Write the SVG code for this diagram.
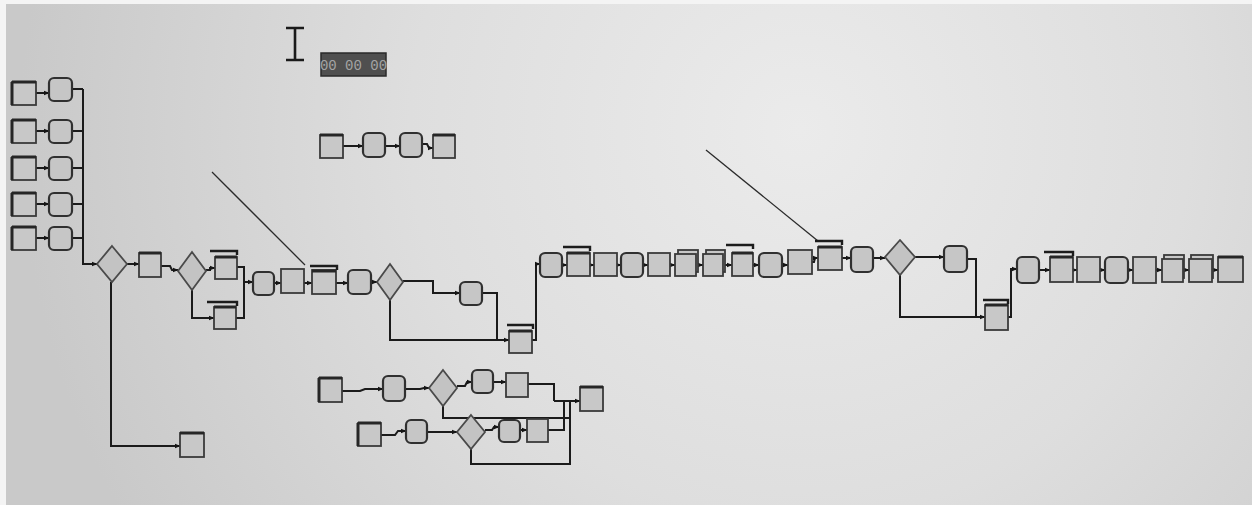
<svg xmlns="http://www.w3.org/2000/svg" width="1252" height="505" viewBox="0 0 1252 505">
  <defs>
    <radialGradient id="screen" cx="800" cy="130" r="780" gradientUnits="userSpaceOnUse">
      <stop offset="0" stop-color="#ebebeb"/>
      <stop offset="0.5" stop-color="#dedede"/>
      <stop offset="1" stop-color="#c9c9c9"/>
    </radialGradient>
    <marker id="arr" viewBox="0 0 6 6" refX="5.5" refY="3" markerWidth="6" markerHeight="6" orient="auto" markerUnits="userSpaceOnUse">
      <path d="M0 0.5 L6 3 L0 5.5 Z" fill="#151515"/>
    </marker>
    <style>
      .p { fill:#c8c8c8; stroke:#3a3a3a; stroke-width:1.8; }
      .a { fill:#c6c6c6; stroke:#303030; stroke-width:2.2; }
      .d { fill:#c3c3c3; stroke:#4a4a4a; stroke-width:1.8; }
      .hd { fill:none; stroke:#262626; stroke-width:3; }
      .q { fill:none; stroke:#1c1c1c; stroke-width:2.4; }
      .c path { fill:none; stroke:#1b1b1b; stroke-width:2; marker-end:url(#arr); }
      .c path.n { marker-end:none; }
      .ln { fill:none; stroke:#2a2a2a; stroke-width:1.3; }
    </style>
  </defs>

  <!-- screen surface -->
  <rect width="1252" height="505" fill="#f4f4f4"/>
  <rect x="6" y="4" width="1246" height="501" fill="url(#screen)"/>

  <!-- toolbar cursor and run clock -->
  <g id="cursor">
    <path d="M295 28 V60 M286 28 H304 M286 60 H304" fill="none" stroke="#1a1a1a" stroke-width="2.6"/>
  </g>
  <g id="clock">
    <rect x="321" y="53" width="65" height="23" fill="#4f4f4f" stroke="#2a2a2a" stroke-width="1.5"/>
    <text x="353.5" y="70" text-anchor="middle" font-family="Liberation Mono, monospace" font-size="14" fill="#a4a4a4">00 00 00</text>
  </g>

  <!-- pointer lines -->
  <path class="ln" d="M212 172 L305 265"/>
  <path class="ln" d="M706 150 L818 241"/>

  <!-- connectors -->
  <g id="connectors" class="c">
    <!-- arrival streams -->
    <path d="M36 93 H49"/>
    <path d="M36 131 H49"/>
    <path d="M36 168 H49"/>
    <path d="M36 204 H49"/>
    <path d="M36 238 H49"/>
    <path class="n" d="M72 89 H83 M72 131 H83 M72 168 H83 M72 204 H83 M72 238 H83"/>
    <path d="M83 89 V264 H97"/>
    <!-- first branch -->
    <path d="M127 264 H139"/>
    <path d="M111 282 V446 H180"/>
    <path d="M161 266 H170 L172 270 H178"/>
    <path d="M206 270 H210 V268 H215"/>
    <path d="M192 290 V318 H214"/>
    <path class="n" d="M237 267 H244 V318 H236"/>
    <path d="M244 282 H253"/>
    <path d="M274 283 H281"/>
    <path d="M304 283 H312"/>
    <path d="M336 283 H348"/>
    <path d="M371 282 H377"/>
    <path d="M403 281 H433 V293 H460"/>
    <path class="n" d="M482 293 H497 V340"/>
    <path d="M390 300 V340 H509"/>
    <path d="M532 340 H536 V264 H540"/>
    <!-- upper line -->
    <path d="M562 265 H567"/>
    <path d="M590 265 H594"/>
    <path d="M617 265 H621"/>
    <path d="M643 265 H648"/>
    <path d="M670 265 H675"/>
    <path d="M697 265 H703"/>
    <path d="M724 265 H732"/>
    <path d="M753 265 H759"/>
    <path d="M782 265 H788"/>
    <path d="M812 262 H814 L815 258 H818"/>
    <path d="M842 258 H851"/>
    <path d="M873 258 H885"/>
    <path d="M915 257 H944"/>
    <path class="n" d="M967 259 H976 V317"/>
    <path d="M900 275 V317 H985"/>
    <path d="M1008 317 H1011 V269 H1017"/>
    <path d="M1039 270 H1050"/>
    <path d="M1073 270 H1077"/>
    <path d="M1100 270 H1105"/>
    <path d="M1128 270 H1133"/>
    <path d="M1156 270 H1162"/>
    <path d="M1183 270 H1189"/>
    <path d="M1212 270 H1218"/>
    <!-- small chain -->
    <path d="M343 146 H363"/>
    <path d="M385 146 H400"/>
    <path d="M422 144 H427 L429 148 H433"/>
    <!-- lower sub-model -->
    <path d="M342 391 H360 L365 389 H383"/>
    <path d="M405 389 H420 L424 388 H429"/>
    <path d="M457 386 H465 L467 382 H472"/>
    <path d="M493 382 H506"/>
    <path class="n" d="M528 384 H554 V401"/>
    <path d="M554 401 H580"/>
    <path class="n" d="M443 406 V418 H570"/>
    <path d="M381 435 H395 L398 431 H406"/>
    <path d="M427 432 H457"/>
    <path d="M485 430 H492 L494 427 H499"/>
    <path d="M520 430 H527"/>
    <path class="n" d="M548 430 H564 V401"/>
    <path class="n" d="M471 449 V464 H570 V401"/>
  </g>

  <!-- arrival sources -->
  <g id="src1"><rect class="p" x="12" y="82" width="24" height="23"/><path class="hd" d="M12 82 H36 M12 82 V105"/></g>
  <g id="set1"><rect class="a" x="49" y="78" width="23" height="23" rx="5"/></g>
  <g id="src2"><rect class="p" x="12" y="120" width="24" height="23"/><path class="hd" d="M12 120 H36 M12 120 V143"/></g>
  <g id="set2"><rect class="a" x="49" y="120" width="23" height="23" rx="5"/></g>
  <g id="src3"><rect class="p" x="12" y="157" width="24" height="23"/><path class="hd" d="M12 157 H36 M12 157 V180"/></g>
  <g id="set3"><rect class="a" x="49" y="157" width="23" height="23" rx="5"/></g>
  <g id="src4"><rect class="p" x="12" y="193" width="24" height="23"/><path class="hd" d="M12 193 H36 M12 193 V216"/></g>
  <g id="set4"><rect class="a" x="49" y="193" width="23" height="23" rx="5"/></g>
  <g id="src5"><rect class="p" x="12" y="227" width="24" height="23"/><path class="hd" d="M12 227 H36 M12 227 V250"/></g>
  <g id="set5"><rect class="a" x="49" y="227" width="23" height="23" rx="5"/></g>

  <!-- first branch -->
  <g id="dec1"><polygon class="d" points="112,246 127,264 112,282 97,264"/></g>
  <g id="proc1"><rect class="p" x="139" y="253" width="22" height="24"/><path class="hd" d="M139 253 H161"/></g>
  <g id="dec2"><polygon class="d" points="192,252 206,271 192,290 178,271"/></g>
  <g id="proc2"><rect class="p" x="215" y="257" width="22" height="22"/><path class="hd" d="M215 257 H237"/><path class="q" d="M210 251 H237 V255"/></g>
  <g id="proc3"><rect class="p" x="214" y="307" width="22" height="22"/><path class="hd" d="M214 307 H236"/><path class="q" d="M207 302 H237 V306"/></g>
  <g id="exit1"><rect class="p" x="180" y="433" width="24" height="24"/><path class="hd" d="M180 433 H204"/></g>
  <g id="set6"><rect class="a" x="253" y="272" width="21" height="23" rx="5"/></g>
  <g id="rec1"><rect class="p" x="281" y="269" width="23" height="24" fill="#cdcdcd"/></g>
  <g id="proc4"><rect class="p" x="312" y="270" width="24" height="24"/><path class="hd" d="M312 271 H336"/><path class="q" d="M310 266 H337 V270"/></g>
  <g id="set7"><rect class="a" x="348" y="270" width="23" height="24" rx="5"/></g>
  <g id="dec3"><polygon class="d" points="390,264 403,282 390,300 377,282"/></g>
  <g id="set8"><rect class="a" x="460" y="282" width="22" height="23" rx="5"/></g>
  <g id="proc5"><rect class="p" x="509" y="331" width="23" height="22"/><path class="hd" d="M509 331 H532"/><path class="q" d="M507 325 H533 V329"/></g>

  <!-- upper line -->
  <g id="set9"><rect class="a" x="540" y="253" width="22" height="24" rx="5"/></g>
  <g id="proc6"><rect class="p" x="567" y="253" width="23" height="23"/><path class="hd" d="M567 253 H590"/><path class="q" d="M563 247 H590 V251"/></g>
  <g id="rec2"><rect class="p" x="594" y="253" width="23" height="23"/></g>
  <g id="set10"><rect class="a" x="621" y="253" width="22" height="24" rx="5"/></g>
  <g id="rec3"><rect class="p" x="648" y="253" width="22" height="23"/></g>
  <g id="batch1"><rect class="p" x="678" y="250" width="20" height="22"/><rect class="p" x="675" y="254" width="21" height="22"/></g>
  <g id="batch2"><rect class="p" x="706" y="250" width="19" height="22"/><rect class="p" x="703" y="254" width="20" height="22"/></g>
  <g id="proc7"><rect class="p" x="732" y="253" width="21" height="23"/><path class="hd" d="M732 253 H753"/><path class="q" d="M726 245 H753 V249"/></g>
  <g id="set11"><rect class="a" x="759" y="253" width="23" height="24" rx="5"/></g>
  <g id="rec4"><rect class="p" x="788" y="250" width="24" height="24"/></g>
  <g id="proc8"><rect class="p" x="818" y="247" width="24" height="23"/><path class="hd" d="M818 247 H842"/><path class="q" d="M815 241 H842 V245"/></g>
  <g id="set12"><rect class="a" x="851" y="247" width="22" height="25" rx="5"/></g>
  <g id="dec4"><polygon class="d" points="900,240 915,257 900,275 885,257"/></g>
  <g id="set13"><rect class="a" x="944" y="246" width="23" height="26" rx="5"/></g>
  <g id="proc9"><rect class="p" x="985" y="305" width="23" height="25"/><path class="hd" d="M985 305 H1008"/><path class="q" d="M983 300 H1008 V304"/></g>
  <g id="set14"><rect class="a" x="1017" y="257" width="22" height="26" rx="5"/></g>
  <g id="proc10"><rect class="p" x="1050" y="257" width="23" height="25"/><path class="hd" d="M1050 257 H1073"/><path class="q" d="M1044 252 H1073 V256"/></g>
  <g id="rec5"><rect class="p" x="1077" y="257" width="23" height="25"/></g>
  <g id="set15"><rect class="a" x="1105" y="257" width="23" height="26" rx="5"/></g>
  <g id="rec6"><rect class="p" x="1133" y="257" width="23" height="26"/></g>
  <g id="batch3"><rect class="p" x="1164" y="255" width="20" height="23"/><rect class="p" x="1162" y="259" width="21" height="23"/></g>
  <g id="batch4"><rect class="p" x="1191" y="255" width="22" height="23"/><rect class="p" x="1189" y="259" width="23" height="23"/></g>
  <g id="exit2"><rect class="p" x="1218" y="257" width="25" height="25"/><path class="hd" d="M1218 257 H1243"/></g>

  <!-- small chain -->
  <g id="src6"><rect class="p" x="320" y="135" width="23" height="23"/><path class="hd" d="M320 135 H343"/></g>
  <g id="set16"><rect class="a" x="363" y="133" width="22" height="24" rx="5"/></g>
  <g id="set17"><rect class="a" x="400" y="133" width="22" height="24" rx="5"/></g>
  <g id="exit3"><rect class="p" x="433" y="135" width="22" height="23"/><path class="hd" d="M433 135 H455"/></g>

  <!-- lower sub-model -->
  <g id="src7"><rect class="p" x="319" y="378" width="23" height="24"/><path class="hd" d="M319 378 H342 M319 378 V402"/></g>
  <g id="set18"><rect class="a" x="383" y="376" width="22" height="25" rx="5"/></g>
  <g id="decA"><polygon class="d" points="443,370 457,388 443,406 429,388"/></g>
  <g id="set19"><rect class="a" x="472" y="370" width="21" height="23" rx="5"/></g>
  <g id="rec7"><rect class="p" x="506" y="373" width="22" height="24"/></g>
  <g id="exit4"><rect class="p" x="580" y="387" width="23" height="24"/><path class="hd" d="M580 387 H603"/></g>
  <g id="src8"><rect class="p" x="358" y="423" width="23" height="23"/><path class="hd" d="M358 423 H381 M358 423 V446"/></g>
  <g id="set20"><rect class="a" x="406" y="420" width="21" height="23" rx="5"/></g>
  <g id="decB"><polygon class="d" points="471,415 485,432 471,449 457,432"/></g>
  <g id="set21"><rect class="a" x="499" y="420" width="21" height="22" rx="5"/></g>
  <g id="rec8"><rect class="p" x="527" y="419" width="21" height="23"/></g>
</svg>
